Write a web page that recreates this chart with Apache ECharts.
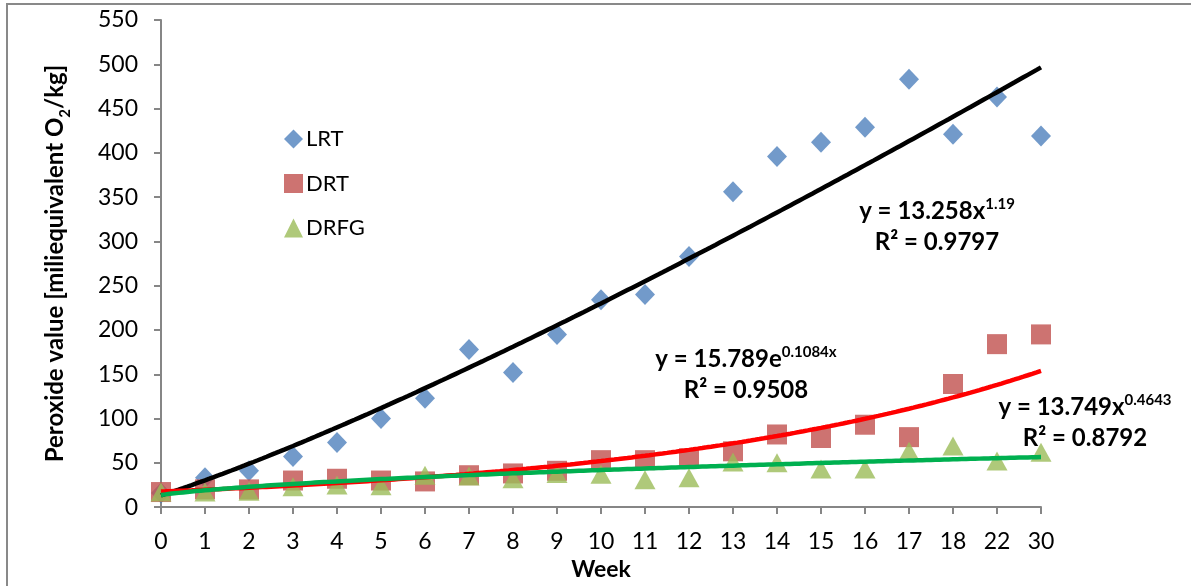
<!DOCTYPE html>
<html>
<head>
<meta charset="utf-8">
<script src="https://cdn.jsdelivr.net/npm/echarts@6/dist/echarts.min.js"></script>
<style>
  html, body { margin: 0; padding: 0; background: #fff; }
  #chart { width: 1191px; height: 586px; }
</style>
</head>
<body>
<div id="chart"></div>
<script>
// ---------------- data ----------------
const weeks = ['0','1','2','3','4','5','6','7','8','9','10','11','12','13','14','15','16','17','18','22','30'];
const lrt  = [16, 33, 41, 57, 73, 100, 123, 178, 152, 195, 234, 240, 283, 356, 396, 412, 429, 483, 421, 463, 419];
const drt  = [17, 20, 20, 30, 32, 30, 29, 36, 38, 41, 53, 53, 55, 63, 82, 78, 93, 79, 139, 184, 195];
const drfg = [17, 17, 18, 23, 25, 24, 36, 35, 32, 38, 37, 31, 33, 51, 50, 43, 43, 63, 69, 52, 62];
const yTicks = { min: 0, max: 550, interval: 50 };

// trendline coefficients as displayed on the chart (x = category position 1..n)
const lrtPower = [13.258, 1.19];     // y = a x^b
const drtExp   = [15.789, 0.1084];   // y = a e^(b x)
const drfgPower = [13.749, 0.4643];  // y = a x^b

// ---------------- trend curves ----------------
function curve(fn) {
  const pts = [];
  for (let i = 0; i <= 200; i++) {
    const t = i / 10;               // category index 0..20
    pts.push([t, fn(t + 1)]);
  }
  return pts;
}
const lrtTrend  = curve(x => lrtPower[0] * Math.pow(x, lrtPower[1]));
const drtTrend  = curve(x => drtExp[0] * Math.exp(drtExp[1] * x));
const drfgTrend = curve(x => drfgPower[0] * Math.pow(x, drfgPower[1]));

const FONT = 'Lato';
const chart = echarts.init(document.getElementById('chart'), null, { renderer: 'canvas' });

const eqRich = {
  m: { fontFamily: FONT, fontWeight: 'bold', fontSize: 24, lineHeight: 31, color: '#000' },
  s: { fontFamily: FONT, fontWeight: 'bold', fontSize: 15, lineHeight: 31, verticalAlign: 'top', padding: [1, 0, 0, 0], color: '#000' }
};

function eqText(x, y, lines) {
  return {
    type: 'text', x: x, y: y, z: 100,
    style: {
      text: lines, rich: eqRich, align: 'center', verticalAlign: 'middle',
      font: 'bold 24px ' + FONT, fill: '#000'
    }
  };
}

chart.setOption({
  animation: false,
  backgroundColor: '#fff',
  grid: { left: 161, right: 150, top: 20, bottom: 78, containLabel: false },
  legend: {
    data: ['LRT', 'DRT', 'DRFG'],
    orient: 'vertical',
    left: 279, top: 123,
    itemWidth: 19, itemHeight: 19, itemGap: 22.5,
    textStyle: { fontFamily: FONT, fontSize: 22, lineHeight: 19, color: '#000', padding: [0, 0, 0, -2] }
  },
  xAxis: [{
    type: 'category',
    data: weeks,
    boundaryGap: false,
    axisLine: { lineStyle: { color: '#868686', width: 2 } },
    axisTick: { show: true, length: 7, interval: 0, lineStyle: { color: '#868686', width: 2 } },
    axisLabel: { interval: 0, margin: 23, fontFamily: FONT, fontSize: 23, color: '#000' },
    splitLine: { show: false },
    name: 'Week', nameLocation: 'middle', nameGap: 47,
    nameTextStyle: { fontFamily: FONT, fontSize: 23, fontWeight: 'bold', color: '#000' }
  }, {
    type: 'value', min: 0, max: weeks.length - 1, show: false
  }],
  yAxis: {
    type: 'value',
    min: yTicks.min, max: yTicks.max, interval: yTicks.interval,
    axisLine: { show: true, lineStyle: { color: '#868686', width: 2 } },
    axisTick: { show: true, length: 7, lineStyle: { color: '#868686', width: 2 } },
    axisLabel: { margin: 23, fontFamily: FONT, fontSize: 23, color: '#000' },
    splitLine: { show: false },
    name: '{m|Peroxide value [miliequivalent O}{sub|2}{m|/kg]}',
    nameLocation: 'middle', nameRotate: 90, nameGap: 93,
    nameTextStyle: {
      fontFamily: FONT, fontSize: 24, fontWeight: 'bold', color: '#000',
      rich: {
        m: { fontFamily: FONT, fontSize: 24, fontWeight: 'bold', color: '#000', lineHeight: 26 },
        sub: { fontFamily: FONT, fontSize: 15, fontWeight: 'bold', color: '#000', lineHeight: 26, verticalAlign: 'bottom', padding: [0, 0, -5, 0] }
      }
    }
  },
  series: [
    { name: 'LRT', type: 'scatter', data: lrt, symbol: 'diamond', symbolSize: [20, 21], clip: false,
      itemStyle: { color: '#4F81BD' }, z: 2 },
    { name: 'DRT', type: 'scatter', data: drt, symbol: 'rect', symbolSize: 20, clip: false,
      itemStyle: { color: '#C0504D' }, z: 3 },
    { name: 'DRFG', type: 'scatter', data: drfg, symbol: 'triangle', symbolSize: [21, 19], clip: false,
      itemStyle: { color: '#9BBB59' }, z: 4 },
    { name: 'LRT trend', type: 'line', xAxisIndex: 1, data: lrtTrend, showSymbol: false, symbol: 'none',
      lineStyle: { color: '#000', width: 4.5 }, z: 5, silent: true },
    { name: 'DRT trend', type: 'line', xAxisIndex: 1, data: drtTrend, showSymbol: false, symbol: 'none',
      lineStyle: { color: '#FF0000', width: 4.5 }, z: 6, silent: true },
    { name: 'DRFG trend', type: 'line', xAxisIndex: 1, data: drfgTrend, showSymbol: false, symbol: 'none',
      lineStyle: { color: '#00B050', width: 4.5 }, z: 7, silent: true }
  ],
  graphic: [
    { type: 'rect', shape: { x: 7, y: 4, width: 1300, height: 700 },
      style: { fill: null, stroke: '#898989', lineWidth: 2 }, z: 0, silent: true },
    eqText(937, 227, '{m|y = 13.258x}{s|1.19}\n{m|R² = 0.9797}'),
    eqText(746, 375, '{m|y = 15.789e}{s|0.1084x}\n{m|R² = 0.9508}'),
    eqText(1085, 423, '{m|y = 13.749x}{s|0.4643}\n{m|R² = 0.8792}')
  ]
});
</script>
</body>
</html>
